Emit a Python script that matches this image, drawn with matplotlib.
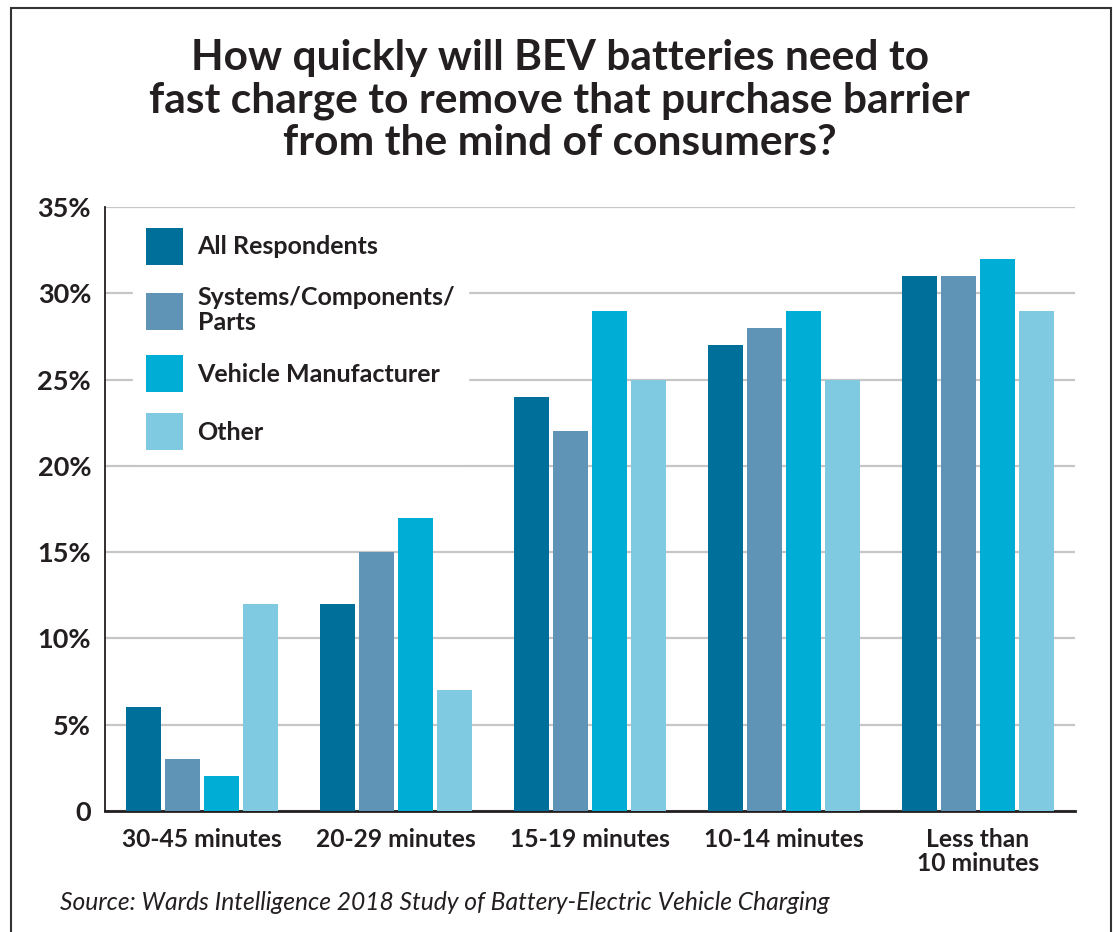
import matplotlib
matplotlib.use("Agg")
import matplotlib.pyplot as plt
from matplotlib.patches import Patch, Rectangle
import numpy as np

categories = ["30-45 minutes", "20-29 minutes", "15-19 minutes", "10-14 minutes", "Less than\n10 minutes"]
series_names = ["All Respondents", "Systems/Components/\nParts", "Vehicle Manufacturer", "Other"]
all_respondents = [6, 12, 24, 27, 31]
systems_parts = [3, 15, 22, 28, 31]
vehicle_maker = [2, 17, 29, 29, 32]
other = [12, 7, 25, 25, 29]
yticks = [0, 5, 10, 15, 20, 25, 30, 35]
ytick_labels = ["0", "5%", "10%", "15%", "20%", "25%", "30%", "35%"]

colors = ["#00709b", "#5f94b7", "#00aed5", "#7fc9e1"]
text_col = "#231f20"

plt.rcParams["font.family"] = ["Lato", "DejaVu Sans"]

fig = plt.figure(figsize=(11.13, 9.32), dpi=100)
ax = fig.add_axes([105 / 1113, 1 - 811 / 932, (1075 - 105) / 1113, (811 - 207) / 932])

x = np.arange(len(categories))
w = 0.18
step = 0.2
data = [all_respondents, systems_parts, vehicle_maker, other]
for i, vals in enumerate(data):
    ax.bar(x + (i - 1.5) * step, vals, width=w, color=colors[i], zorder=3)

ax.set_xlim(-0.5, 4.5)
ax.set_ylim(0, 35)
ax.set_yticks(yticks)
ax.set_yticklabels(ytick_labels)
ax.set_xticks(x)
ax.set_xticklabels(categories, linespacing=1.05)
ax.tick_params(axis="both", length=0, colors=text_col)
ax.tick_params(axis="y", pad=10, labelsize=19.5)
ax.tick_params(axis="x", pad=12, labelsize=17.7)
for lab in ax.get_xticklabels() + ax.get_yticklabels():
    lab.set_fontweight("bold")

ax.grid(axis="y", color="#c6c6c6", linewidth=1.6, zorder=0)
for s in ["top", "right"]:
    ax.spines[s].set_visible(False)
ax.spines["left"].set_color(text_col)
ax.spines["left"].set_linewidth(1.3)
ax.spines["bottom"].set_color(text_col)
ax.spines["bottom"].set_linewidth(2)

handles = [Patch(facecolor=c, edgecolor="none") for c in colors]
leg = ax.legend(handles, series_names, loc="upper left", bbox_to_anchor=(0.016, 1.007),
                frameon=True, fancybox=False, framealpha=1, edgecolor="white",
                prop={"size": 18, "weight": "bold"}, handlelength=1.48, handleheight=1.9,
                labelspacing=0.85, handletextpad=0.6, borderpad=0.5)
for t in leg.get_texts():
    t.set_color(text_col)
    t.set_linespacing(1.1)
leg.set_zorder(5)

fig.text(0.503, 1 - 39 / 932, "How quickly will BEV batteries need to\nfast charge to remove that purchase barrier\nfrom the mind of consumers?",
         ha="center", va="top", fontsize=30.6, fontweight="bold", color=text_col, linespacing=1.14)
fig.text(60 / 1113, 1 - 903 / 932, "Source: Wards Intelligence 2018 Study of Battery-Electric Vehicle Charging",
         ha="left", va="center", fontsize=17.7, style="italic", color=text_col)

# outer frame
fig.add_artist(Rectangle((11 / 1113, -0.1), (1111 - 11) / 1113, 1.1 - 8 / 932,
                         transform=fig.transFigure, fill=False, edgecolor="#333333", linewidth=1.5))

fig.savefig("out.png", dpi=100)
